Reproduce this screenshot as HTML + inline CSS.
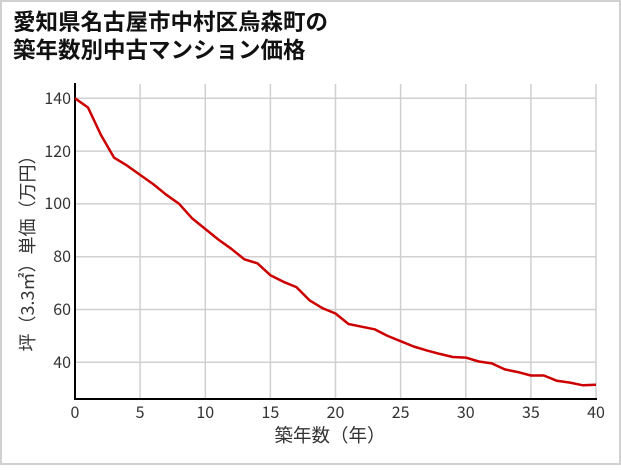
<!DOCTYPE html>
<html><head><meta charset="utf-8"><style>
html,body{margin:0;padding:0;background:#fff;}
body{width:621px;height:465px;overflow:hidden;}
</style></head><body>
<svg width="621" height="465" xmlns="http://www.w3.org/2000/svg" font-family="'Noto Sans CJK JP',sans-serif">
<rect x="1" y="1" width="619" height="463" fill="#fff" stroke="#d0d0d0" stroke-width="2"/>
<text x="13" y="30" font-size="22.5" font-weight="bold" fill="#111">愛知県名古屋市中村区烏森町の</text>
<text x="13" y="58" font-size="22.5" font-weight="bold" fill="#111">築年数別中古マンション価格</text>
<g stroke="#d0d0d0" stroke-width="1.5">
<line x1="140.1" y1="84" x2="140.1" y2="399"/><line x1="205.3" y1="84" x2="205.3" y2="399"/>
<line x1="270.4" y1="84" x2="270.4" y2="399"/><line x1="335.5" y1="84" x2="335.5" y2="399"/>
<line x1="400.6" y1="84" x2="400.6" y2="399"/><line x1="465.8" y1="84" x2="465.8" y2="399"/>
<line x1="530.9" y1="84" x2="530.9" y2="399"/><line x1="596" y1="84" x2="596" y2="399"/>
<line x1="75" y1="98.3" x2="596" y2="98.3"/><line x1="75" y1="151.1" x2="596" y2="151.1"/>
<line x1="75" y1="203.9" x2="596" y2="203.9"/><line x1="75" y1="256.7" x2="596" y2="256.7"/>
<line x1="75" y1="309.5" x2="596" y2="309.5"/><line x1="75" y1="362.3" x2="596" y2="362.3"/>
</g>
<line x1="75" y1="83" x2="75" y2="400" stroke="#000" stroke-width="2"/>
<line x1="74" y1="399" x2="597" y2="399" stroke="#000" stroke-width="2"/>
<polyline fill="none" stroke="#cc0000" stroke-width="2.5" stroke-linejoin="round" points="75,98.3 88,107.5 101.1,135.3 114.1,157.7 127.1,165.6 140.1,174.9 153.2,184.1 166.2,194.7 179.2,203.9 192.2,218.4 205.3,229 218.3,239.5 231.3,248.8 244.3,259.3 257.4,263.3 270.4,275.2 283.4,281.8 296.4,287.1 309.5,300.3 322.5,308.2 335.5,313.5 348.5,324 361.6,326.7 374.6,329.3 387.6,335.9 400.6,341.2 413.7,346.5 426.7,350.4 439.7,353.9 452.7,357 465.8,357.6 478.8,361.5 491.8,363.4 504.8,369.4 517.9,372.1 530.9,375.5 543.9,375.5 556.9,380.8 570,382.6 583,385.3 596,384.8"/>
<g font-size="16" fill="#333" text-anchor="end">
<text x="71" y="104">140</text><text x="71" y="157">120</text><text x="71" y="209">100</text>
<text x="71" y="262">80</text><text x="71" y="315">60</text><text x="71" y="368">40</text>
</g>
<g font-size="16" fill="#333" text-anchor="middle">
<text x="75" y="418">0</text><text x="140.1" y="418">5</text><text x="205.3" y="418">10</text>
<text x="270.4" y="418">15</text><text x="335.5" y="418">20</text><text x="400.6" y="418">25</text>
<text x="465.8" y="418">30</text><text x="530.9" y="418">35</text><text x="596" y="418">40</text>
</g>
<text x="330" y="442" font-size="18.5" fill="#333" text-anchor="middle">築年数（年）</text>
<text transform="translate(34,249) rotate(-90)" font-size="18" fill="#333" text-anchor="middle">坪（3.3㎡）単価（万円）</text>
</svg>
</body></html>
